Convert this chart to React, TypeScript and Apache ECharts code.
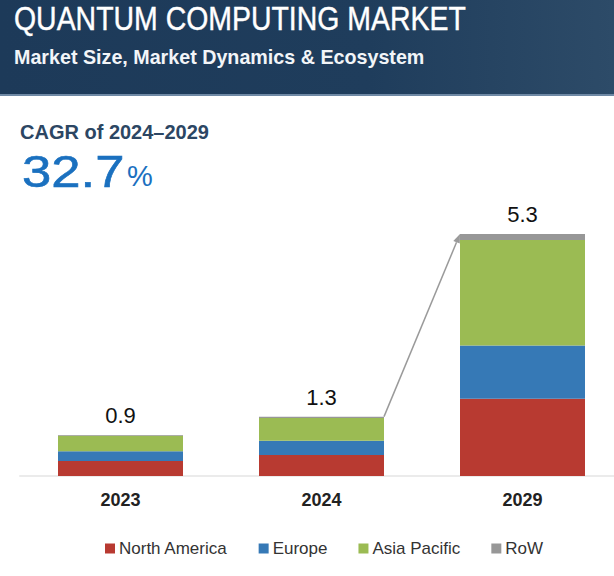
import React, { useEffect, useRef } from "react";
import * as echarts from "echarts";

const categories = ["2023", "2024", "2029"];
const northAmerica = [0.33, 0.46, 1.69];
const europe = [0.21, 0.31, 1.17];
const asiaPacific = [0.34, 0.5, 2.31];
const restOfWorld = [0.02, 0.03, 0.13];
const totalLabels = ["0.9", "1.3", "5.3"];
const seriesNames = ["North America", "Europe", "Asia Pacific", "RoW"];
const seriesColors = ["#b83a31", "#3679b6", "#9bbb53", "#979797"];

const titleText = "QUANTUM COMPUTING MARKET";
const subtitleText = "Market Size, Market Dynamics & Ecosystem";
const cagrLabel = "CAGR of 2024\u20132029";
const cagrValue = "32.7";

const FONT = "'Liberation Sans', Arial, sans-serif";
const BAR_WIDTH = 125;

export default function App() {
  const ref = useRef<HTMLDivElement>(null);

  useEffect(() => {
    document.body.style.margin = "0";
    if (!ref.current) return;
    const chart = echarts.init(ref.current, undefined, { renderer: "svg" });
    const data = [northAmerica, europe, asiaPacific, restOfWorld];

    const series: any[] = data.map((vals, i) => ({
      name: seriesNames[i],
      type: "bar",
      stack: "total",
      barWidth: BAR_WIDTH,
      data: vals,
      itemStyle: { color: seriesColors[i] },
      label:
        i === data.length - 1
          ? {
              show: true,
              position: "top",
              distance: 8,
              formatter: (p: any) => totalLabels[p.dataIndex],
              fontFamily: FONT,
              fontSize: 22,
              color: "#111",
            }
          : { show: false },
    }));

    chart.setOption({
      animation: false,
      backgroundColor: "#ffffff",
      textStyle: { fontFamily: FONT },
      grid: { left: 20, top: 202, width: 603, height: 274, outerBoundsMode: "none", containLabel: false },
      xAxis: {
        type: "category",
        data: categories,
        axisLine: { show: true, lineStyle: { color: "#ebebeb", width: 2 } },
        axisTick: { show: false },
        axisLabel: {
          margin: 15,
          fontFamily: FONT,
          fontSize: 18,
          fontWeight: "bold",
          color: "#222",
        },
      },
      yAxis: { type: "value", min: 0, max: 6, show: false, splitLine: { show: false } },
      legend: {
        data: seriesNames,
        left: 105,
        top: 540,
        padding: 0,
        icon: "rect",
        itemWidth: 10,
        itemHeight: 10,
        itemGap: 31,
        textStyle: { fontFamily: FONT, fontSize: 17, color: "#333", padding: [0, 0, 0, -1] },
      },
      series,
    });

    // arrow from 2024 bar top-right to 2029 bar top-left
    const sum = (i: number) => data.reduce((s, arr) => s + arr[i], 0);
    const a = chart.convertToPixel({ gridIndex: 0 }, [1, sum(1)]) as number[];
    const b = chart.convertToPixel({ gridIndex: 0 }, [2, sum(2)]) as number[];
    const sx = a[0] + BAR_WIDTH / 2;
    const sy = a[1];
    const ex = b[0] - BAR_WIDTH / 2;
    const ey = b[1];
    const dx = ex - sx;
    const dy = ey - sy;
    const len = Math.sqrt(dx * dx + dy * dy);
    const ux = dx / len;
    const uy = dy / len;
    const headLen = 9;
    const headHalf = 3.5;
    const bx = ex - ux * headLen;
    const by = ey - uy * headLen;
    const px = -uy;
    const py = ux;

    chart.setOption({
      graphic: [
        {
          type: "rect",
          shape: { x: 0, y: 0, width: 614, height: 94 },
          style: {
            fill: new echarts.graphic.LinearGradient(0, 0, 1, 0, [
              { offset: 0, color: "#1d3a59" },
              { offset: 0.6, color: "#1f3d5c" },
              { offset: 1, color: "#2d4b68" },
            ]),
          },
          silent: true,
        },
        {
          type: "rect",
          shape: { x: 0, y: 94, width: 614, height: 2 },
          style: { fill: "#6f89a5" },
          silent: true,
        },
        {
          type: "text",
          x: 14,
          y: 19,
          scaleX: 0.862,
          style: {
            text: titleText,
            fontFamily: FONT,
            fontSize: 33,
            fill: "#ffffff",
            stroke: "#ffffff",
            lineWidth: 0.4,
            verticalAlign: "middle",
          },
        },
        {
          type: "text",
          x: 14,
          y: 57,
          style: {
            text: subtitleText,
            fontFamily: FONT,
            fontSize: 19.7,
            fontWeight: "bold",
            fill: "#f2f5f8",
            verticalAlign: "middle",
          },
        },
        {
          type: "text",
          x: 20,
          y: 132,
          style: {
            text: cagrLabel,
            fontFamily: FONT,
            fontSize: 20,
            fontWeight: "bold",
            fill: "#2c4663",
            verticalAlign: "middle",
          },
        },
        {
          type: "text",
          x: 22,
          y: 171,
          scaleX: 1.17,
          style: {
            text: cagrValue,
            fontFamily: FONT,
            fontSize: 45,
            fill: "#1a70bf",
            stroke: "#1a70bf",
            lineWidth: 0.6,
            verticalAlign: "middle",
          },
        },
        {
          type: "text",
          x: 127,
          y: 176,
          style: {
            text: "%",
            fontFamily: FONT,
            fontSize: 29,
            fill: "#1a70bf",
            verticalAlign: "middle",
          },
        },
        {
          type: "line",
          shape: { x1: sx, y1: sy, x2: bx, y2: by },
          style: { stroke: "#9a9a9a", lineWidth: 1.5 },
          silent: true,
        },
        {
          type: "polygon",
          shape: {
            points: [
              [ex, ey],
              [bx + px * headHalf, by + py * headHalf],
              [bx - px * headHalf, by - py * headHalf],
            ],
          },
          style: { fill: "#9a9a9a" },
          silent: true,
        },
      ],
    });

    return () => chart.dispose();
  }, []);

  return <div ref={ref} style={{ width: 614, height: 576 }} />;
}
